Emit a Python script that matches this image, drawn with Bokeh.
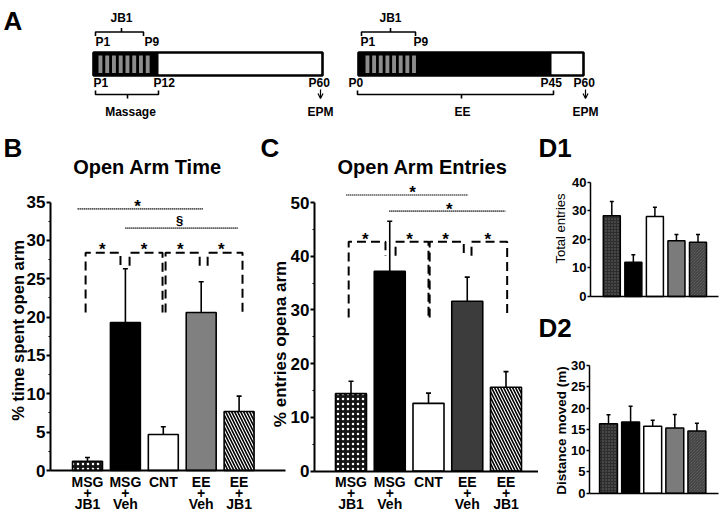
import math
from bokeh.plotting import figure
from bokeh.layouts import column, row
from bokeh.models import Range1d, FixedTicker, ColumnDataSource, Arrow, OpenHead
from bokeh.core.properties import value
from bokeh.embed import file_html
from bokeh.resources import INLINE

FONT = "Liberation Sans"

# ---------------- data ----------------
groups = ["MSG+JB1", "MSG+Veh", "CNT", "EE+Veh", "EE+JB1"]
group_line1 = ["MSG", "MSG", "CNT", "EE", "EE"]
group_line2 = ["+", "+", "", "+", "+"]
group_line3 = ["JB1", "Veh", "", "Veh", "JB1"]
group_index = [1, 2, 3, 4, 5]

open_time_mean = [1.2, 19.3, 4.7, 20.6, 7.7]
open_time_sem = [0.5, 7.0, 1.0, 4.0, 2.0]
open_entries_mean = [14.4, 37.2, 12.6, 31.6, 15.6]
open_entries_sem = [2.3, 9.3, 1.9, 4.5, 2.9]
total_entries_mean = [28.2, 12.0, 28.0, 19.5, 19.0]
total_entries_sem = [5.0, 2.6, 3.2, 2.2, 2.7]
distance_mean = [16.3, 16.7, 15.7, 15.3, 14.6]
distance_sem = [2.1, 3.7, 1.4, 3.2, 1.8]

time_ticks = [0, 5, 10, 15, 20, 25, 30, 35]
time_minor = [2.5, 7.5, 12.5, 17.5, 22.5, 27.5, 32.5]
entries_ticks = [0, 10, 20, 30, 40, 50]
entries_minor = [5, 15, 25, 35, 45]
total_ticks = [0, 10, 20, 30, 40]
distance_ticks = [0, 5, 10, 15, 20, 25, 30]

# significance annotations (group-index units, value units)
b_dotted = dict(x0=[0.74, 2.0], x1=[4.06, 4.97], y=[34.1, 31.6])
b_dotted_marks = dict(x=[2.32, 3.43], y=[34.47, 32.6], text=["*", "§"], size=["17px", "13px"])
b_brackets = [(0.95, 20.6, 1.87, 26.7), (2.11, 26.7, 2.98, 20.6),
              (3.06, 20.6, 3.96, 26.7), (4.17, 26.7, 5.09, 20.6)]
b_bracket_top = 28.4
b_bracket_stars = dict(x=[1.39, 2.49, 3.45, 4.53], y=[28.86] * 4)

c_dotted = dict(x0=[0.88, 1.99], x1=[4.03, 4.99], y=[51.4, 48.4])
c_dotted_marks = dict(x=[2.59, 3.54], y=[51.94, 48.77], text=["*", "*"], size=["17px", "17px"])
c_brackets = [(0.94, 28.6, 1.89, 40.1), (2.15, 40.1, 3.00, 28.6),
              (3.03, 28.6, 3.91, 40.1), (4.11, 40.1, 5.03, 28.6)]
c_bracket_top = 42.7
c_bracket_stars = dict(x=[1.37, 2.51, 3.44, 4.53], y=[43.18] * 4)

# timeline schematic labels
left_top_labels = ["P1", "P9"]
left_bottom_labels = ["P1", "P12", "P60"]
right_top_labels = ["P1", "P9"]
right_bottom_labels = ["P0", "P45", "P60"]
jb1_doses = 8

TOP_H = 121   # height of the schematic strip
D_SPLIT = 304  # boundary between D1 and D2


# ---------------- layout helpers ----------------
class Panel:
    """A figure whose frame fills the whole canvas; px <-> data helpers."""

    def __init__(self, left, top, width, height, x0_px, x_step, y0_px, y_step):
        self.x0_px, self.x_step, self.y0_px, self.y_step = x0_px, x_step, y0_px, y_step
        xr = (self.dx(left), self.dx(left + width))
        yr = (self.dy(top + height), self.dy(top))
        self.p = figure(width=width, height=height, x_range=Range1d(*xr), y_range=Range1d(*yr),
                        output_backend="svg", toolbar_location=None, min_border=0)
        self.p.grid.visible = False
        self.p.outline_line_color = None

    def dx(self, px):
        return 1 + (px - self.x0_px) / self.x_step

    def dy(self, py):
        return (self.y0_px - py) / self.y_step

    def text(self, px, py, text, size, bold=True, align="left", angle=0.0):
        self.p.text(x=[self.dx(px)], y=[self.dy(py)], text=[text], text_font=value(FONT),
                    text_font_size=size, text_font_style="bold" if bold else "normal",
                    text_align=align, text_baseline="middle", angle=angle, text_color="black")


def style_axes(P, axis_px, x_end_px, ticks, minor, bound, size, tick_out, lw, categories):
    p = P.p
    ya = p.yaxis[0]
    ya.fixed_location = P.dx(axis_px)
    ya.ticker = FixedTicker(ticks=ticks, minor_ticks=minor)
    ya.bounds = (0, bound)
    ya.axis_line_width = lw
    ya.major_tick_line_width = lw
    ya.major_tick_out = tick_out
    ya.major_tick_in = 0
    ya.minor_tick_out = 2 if minor else 0
    ya.minor_tick_in = 0
    ya.minor_tick_line_width = 1.2
    ya.major_label_standoff = 1
    ya.major_label_text_font = FONT
    ya.major_label_text_font_style = "bold"
    ya.major_label_text_font_size = size
    ya.major_label_text_color = "black"

    xa = p.xaxis[0]
    xa.fixed_location = 0
    xa.bounds = (P.dx(axis_px), P.dx(x_end_px))
    xa.axis_line_width = lw
    xa.major_tick_line_color = None
    xa.minor_tick_line_color = None
    if categories:
        xa.ticker = FixedTicker(ticks=group_index)
        xa.major_label_overrides = {i: t for i, t in zip(group_index, group_line1)}
        xa.major_label_standoff = -3
        xa.major_label_text_font = FONT
        xa.major_label_text_font_style = "bold"
        xa.major_label_text_font_size = "14px"
        xa.major_label_text_color = "black"
        for line, py in ((group_line2, 492.5), (group_line3, 503.7)):
            p.text(x=group_index, y=[P.dy(py)] * 5, text=line, text_font=value(FONT),
                   text_font_size="14px", text_font_style="bold", text_align="center",
                   text_baseline="middle", text_color="black")
    else:
        xa.ticker = FixedTicker(ticks=[])
        xa.major_label_text_font_size = "0px"


def bars(p, means, sems, width, fills, hatches, hatch_colors, hatch_scales, hatch_w, lw, cap):
    tops = [m + s for m, s in zip(means, sems)]
    src = ColumnDataSource(dict(x=group_index, top=means, err=tops, fill=fills,
                                hatch=hatches, hcol=hatch_colors, hscale=hatch_scales))
    p.segment(x0="x", y0="top", x1="x", y1="err", source=src, line_color="black", line_width=lw)
    p.scatter(x="x", y="err", marker="dash", size=cap, line_color="black", line_width=lw, source=src)
    p.vbar(x="x", top="top", bottom=0, width=width, source=src, fill_color="fill",
           line_color="black", line_width=lw, hatch_pattern="hatch", hatch_color="hcol",
           hatch_scale="hscale", hatch_weight=hatch_w)


def significance(p, dotted, marks, brackets, top, stars):
    for x0, x1, y in zip(dotted["x0"], dotted["x1"], dotted["y"]):
        p.line([x0, x1], [y, y], line_color="black", line_width=1.6, line_dash="1 1")
    p.text(x="x", y="y", text="text", text_font_size="size", source=ColumnDataSource(marks),
           text_font=value(FONT), text_font_style="bold", text_align="center",
           text_baseline="middle", text_color="black")
    xs = [[a, a, b, b] for a, ya, b, yb in brackets]
    ys = [[ya, top, top, yb] for a, ya, b, yb in brackets]
    p.multi_line(xs, ys, line_color="black", line_width=2, line_dash="9 5")
    p.text(x=stars["x"], y=stars["y"], text=["*"] * len(stars["x"]), text_font=value(FONT),
           text_font_size="17px", text_font_style="bold", text_align="center",
           text_baseline="middle", text_color="black")


# ---------------- panel A (schematic) ----------------
pa = figure(width=720, height=TOP_H, x_range=Range1d(0, 720), y_range=Range1d(TOP_H, 0),
            output_backend="svg", toolbar_location=None, min_border=0,
            x_axis_location=None, y_axis_location=None)
pa.grid.visible = False
pa.outline_line_color = None


def timeline(x0, x_black, x_end, stripe_start, period):
    pa.quad(left=x0, right=x_end, top=52, bottom=75, fill_color="white", line_color=None)
    pa.quad(left=x0, right=x_black, top=52, bottom=75, fill_color="black", line_color=None)
    lefts = [stripe_start + k * period for k in range(jb1_doses)]
    pa.quad(left=lefts, right=[l + 3.9 for l in lefts], top=55, bottom=72.5,
            fill_color="#8c8c8c", line_color=None)
    pa.quad(left=x0, right=x_end, top=52, bottom=75, fill_color=None,
            line_color="black", line_width=2.6)


def brace(x0, x1, xm, y, d):
    pa.line([x0, x0, xm, xm, xm, x1, x1], [y + 4 * d, y, y, y - 4 * d, y, y, y + 4 * d],
            line_color="black", line_width=1.6)


def atext(xs, ys, texts, align="center", size="12px"):
    pa.text(x=xs, y=ys, text=texts, text_font=value(FONT), text_font_size=size,
            text_font_style="bold", text_align=align, text_baseline="middle",
            text_color="black")


timeline(93, 158, 322, 98, 6.75)
timeline(358, 551, 583, 365, 6.65)

brace(95, 143, 121, 31.5, 1)
brace(95, 158, 127, 94, -1)
brace(361, 415, 390, 31.5, 1)
brace(357, 553, 461, 94, -1)

atext([3], [20], ["A"], align="left", size="26px")
atext([121, 390], [17.7, 17.7], ["JB1", "JB1"])
atext([95, 144], [41.7, 41.7], left_top_labels, align="left")
atext([360, 413], [41.7, 41.7], right_top_labels, align="left")
atext([93, 153, 308], [82.5, 82.5, 82.5], left_bottom_labels, align="left")
atext([348, 540, 573], [82.5, 82.5, 82.5], right_bottom_labels, align="left")
atext([130, 320, 462, 585], [111.2] * 4, ["Massage", "EPM", "EE", "EPM"])
for ax_ in (320, 585):
    pa.add_layout(Arrow(end=OpenHead(size=5, line_width=1.2), x_start=ax_, y_start=89,
                        x_end=ax_, y_end=98, line_width=1.2))

# ---------------- panel B ----------------
B = Panel(0, TOP_H, 290, 515 - TOP_H, 87, 37.9, 470, 7.671)
style_axes(B, 50, 285, time_ticks, time_minor, 35, "17px", 4, 2, True)
bars(B.p, open_time_mean, open_time_sem, 0.79,
     ["#151515", "black", "white", "#808080", "white"],
     ["dot", " ", " ", " ", "\\"],
     ["white", "black", "black", "black", "black"],
     [5, 6, 6, 6, 6], 1.6, 1.6, 5)
significance(B.p, b_dotted, b_dotted_marks, b_brackets, b_bracket_top, b_bracket_stars)
B.text(3, 147.5, "B", "26px")
B.text(147, 166.5, "Open Arm Time", "20px", align="center")
B.text(17, 330, "% time spent open arm", "16.5px", align="center", angle=math.pi / 2)
B.text(260, 147.5, "C", "26px")
B.text(280, 343.5, "% entries opena arm", "17px", align="center", angle=math.pi / 2)

# ---------------- panel C ----------------
C = Panel(290, TOP_H, 248, 515 - TOP_H, 350.5, 38.75, 470.5, 5.37)
style_axes(C, 314, 538, entries_ticks, entries_minor, 50, "17px", 4, 2, True)
bars(C.p, open_entries_mean, open_entries_sem, 0.8,
     ["#151515", "black", "white", "#3c3c3c", "white"],
     ["dot", " ", " ", " ", "\\"],
     ["white", "black", "black", "black", "black"],
     [5, 6, 6, 6, 6], 1.6, 1.6, 5)
significance(C.p, c_dotted, c_dotted_marks, c_brackets, c_bracket_top, c_bracket_stars)
C.text(422, 166.5, "Open Arm Entries", "20px", align="center")

# ---------------- panels D1 / D2 ----------------
d_fills = ["#2e2e2e", "black", "white", "#7b7b7b", "#6e6e6e"]
d_hatch = ["dot", " ", " ", " ", "\\"]
d_hcol = ["#6a6a6a", "black", "black", "black", "#2a2a2a"]

D1 = Panel(538, TOP_H, 182, D_SPLIT - TOP_H, 611.3, 21.55, 296, 2.86)
style_axes(D1, 590, 718, total_ticks, [], 40, "13px", 3, 1.5, False)
bars(D1.p, total_entries_mean, total_entries_sem, 0.79, d_fills, d_hatch, d_hcol,
     [3, 6, 6, 6, 3], 0.8, 1.5, 4)
D1.text(538, 147.5, "D1", "26px")
D1.text(560, 228, "Total entries", "13px", bold=False, align="center", angle=math.pi / 2)

D2 = Panel(538, D_SPLIT, 182, 515 - D_SPLIT, 608, 22.1, 492.7, 4.26)
style_axes(D2, 589, 718, distance_ticks, [], 30, "13px", 3, 1.5, False)
bars(D2.p, distance_mean, distance_sem, 0.81, d_fills, d_hatch, d_hcol,
     [3, 6, 6, 6, 3], 0.8, 1.5, 4)
D2.text(538, 327.5, "D2", "26px")
D2.text(560.5, 430, "Distance moved (m)", "13.5px", align="center", angle=math.pi / 2)

layout = column(pa, row(B.p, C.p, column(D1.p, D2.p)))
open("out.html", "w").write(file_html(layout, INLINE))
